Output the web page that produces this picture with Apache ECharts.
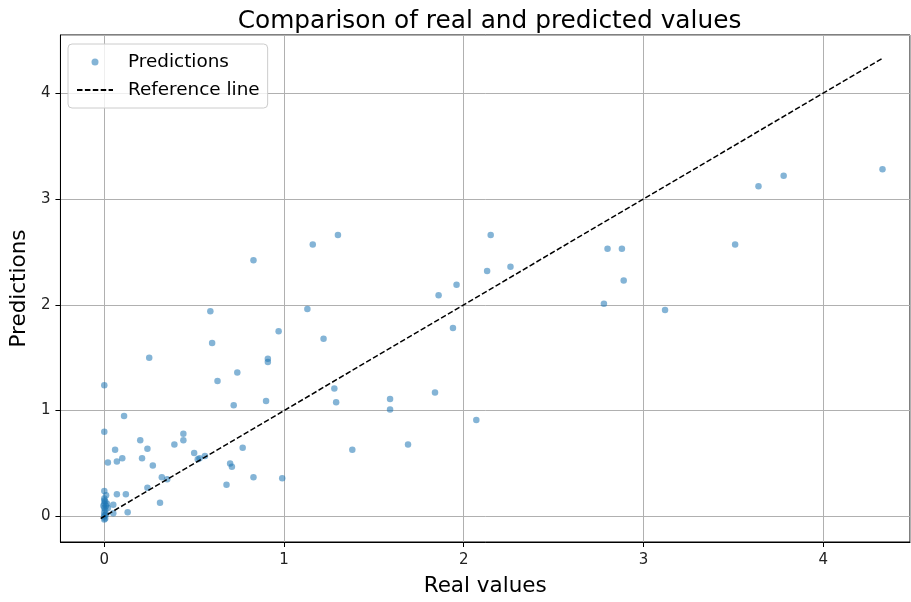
<!DOCTYPE html>
<html>
<head>
<meta charset="utf-8">
<script src="https://cdn.jsdelivr.net/npm/echarts@6/dist/echarts.min.js"></script>
<style>html,body{margin:0;padding:0;background:#fff;}#c{width:911px;height:602px;}</style>
</head>
<body>
<div id="c"></div>
<script>
const realValues = [4.33,3.78,3.64,3.51,3.12,2.80,2.88,2.89,2.78,2.15,2.13,2.26,1.96,1.86,1.94,2.07,0.83,1.16,1.30,0.59,1.13,0.60,0.97,1.22,0.91,0.91,0.74,0.63,1.28,1.29,1.59,1.59,1.84,0.72,0.90,0.77,1.38,1.69,0.70,0.71,0.83,0.99,0.68,0.56,0.25,0.00,0.11,0.00,0.20,0.44,0.44,0.39,0.06,0.24,0.21,0.10,0.07,0.02,0.50,0.52,0.53,0.27,0.32,0.35,0.24,0.31,0.07,0.12,0.01,0.00,0.05,0.13,0.05,0.00,0.005,0.00,0.01,0.00,0.005,0.00,0.01,0.00,0.005,0.00,0.015,0.02,0.00,-0.005,0.00];
const predictedValues = [3.28,3.22,3.12,2.57,1.95,2.53,2.53,2.23,2.01,2.66,2.32,2.36,2.19,2.09,1.78,0.91,2.42,2.57,2.66,1.94,1.96,1.64,1.75,1.68,1.49,1.46,1.36,1.28,1.21,1.08,1.11,1.01,1.17,1.05,1.09,0.65,0.63,0.68,0.50,0.47,0.37,0.36,0.30,0.57,1.50,1.24,0.95,0.80,0.72,0.78,0.72,0.68,0.63,0.64,0.55,0.55,0.52,0.51,0.60,0.54,0.55,0.48,0.37,0.35,0.27,0.13,0.21,0.21,0.20,0.24,0.11,0.04,0.03,0.17,0.14,0.12,0.10,0.08,0.06,0.04,0.02,0.00,-0.02,-0.03,0.12,0.08,0.15,0.10,0.01];
const referenceLine = [-0.02, 4.33];
const xTicks = [0,1,2,3,4];
const yTicks = [0,1,2,3,4];

const points = realValues.map((v,i)=>[v, predictedValues[i]]);
const refPts = referenceLine.map(v=>[v,v]);
const font = 'DejaVu Sans';
const intFmt = (ticks)=> (v)=> { const r=Math.round(v); return (Math.abs(v-r)<1e-6 && ticks.includes(r)) ? String(r) : ''; };

const chart = echarts.init(document.getElementById('c'), null, {renderer:'canvas'});
chart.setOption({
  animation:false,
  backgroundColor:'#fff',
  title:{text:'Comparison of real and predicted values', left:484.5, textAlign:'center', top:4,
    textStyle:{fontFamily:font, fontSize:24.8, fontWeight:'normal', color:'#000'}},
  grid:{left:59, right:1, top:35, bottom:53, show:true, borderColor:'#000', borderWidth:1, backgroundColor:'transparent'},
  legend:{orient:'vertical', left:68, top:44, padding:[9,8,9,8], itemGap:10, itemWidth:36, itemHeight:7,
    backgroundColor:'rgba(255,255,255,0.8)', borderColor:'#cccccc', borderWidth:1, borderRadius:4,
    textStyle:{fontFamily:font, fontSize:18.4, color:'#000', padding:[0,0,0,10]},
    data:[{name:'Predictions', icon:'circle'}, {name:'Reference line', itemStyle:{opacity:0}}]},
  xAxis:{type:'value', min:-0.244, max:4.483, splitNumber:5,
    name:'Real values', nameLocation:'middle', nameGap:33,
    nameTextStyle:{fontFamily:font, fontSize:21.5, color:'#000'},
    axisLine:{show:true, onZero:false, lineStyle:{color:'#000', width:1}},
    axisTick:{show:true, length:5, lineStyle:{color:'#000'}},
    axisLabel:{fontFamily:font, fontSize:15, color:'#222', margin:11, formatter:intFmt(xTicks), showMinLabel:false, showMaxLabel:false},
    splitLine:{show:true, lineStyle:{color:'#b0b0b0', width:1}}},
  yAxis:{type:'value', min:-0.242, max:4.55, splitNumber:5,
    name:'Predictions', nameLocation:'middle', nameGap:22,
    nameTextStyle:{fontFamily:font, fontSize:21.5, color:'#000'},
    axisLine:{show:true, onZero:false, lineStyle:{color:'#000', width:1}},
    axisTick:{show:true, length:5, lineStyle:{color:'#000'}},
    axisLabel:{fontFamily:font, fontSize:15, color:'#222', margin:10, formatter:intFmt(yTicks), showMinLabel:false, showMaxLabel:false},
    splitLine:{show:true, lineStyle:{color:'#b0b0b0', width:1}}},
  series:[
    {name:'Predictions', type:'scatter', data:points, symbolSize:6.5,
      itemStyle:{color:'#1f77b4', opacity:0.55}, z:3},
    {name:'Reference line', type:'line', data:refPts, symbol:'none', showSymbol:false,
      lineStyle:{color:'#000', width:1.5, type:[5.5,2.4]}, itemStyle:{color:'#000'}, z:4}
  ]
});
</script>
</body>
</html>
